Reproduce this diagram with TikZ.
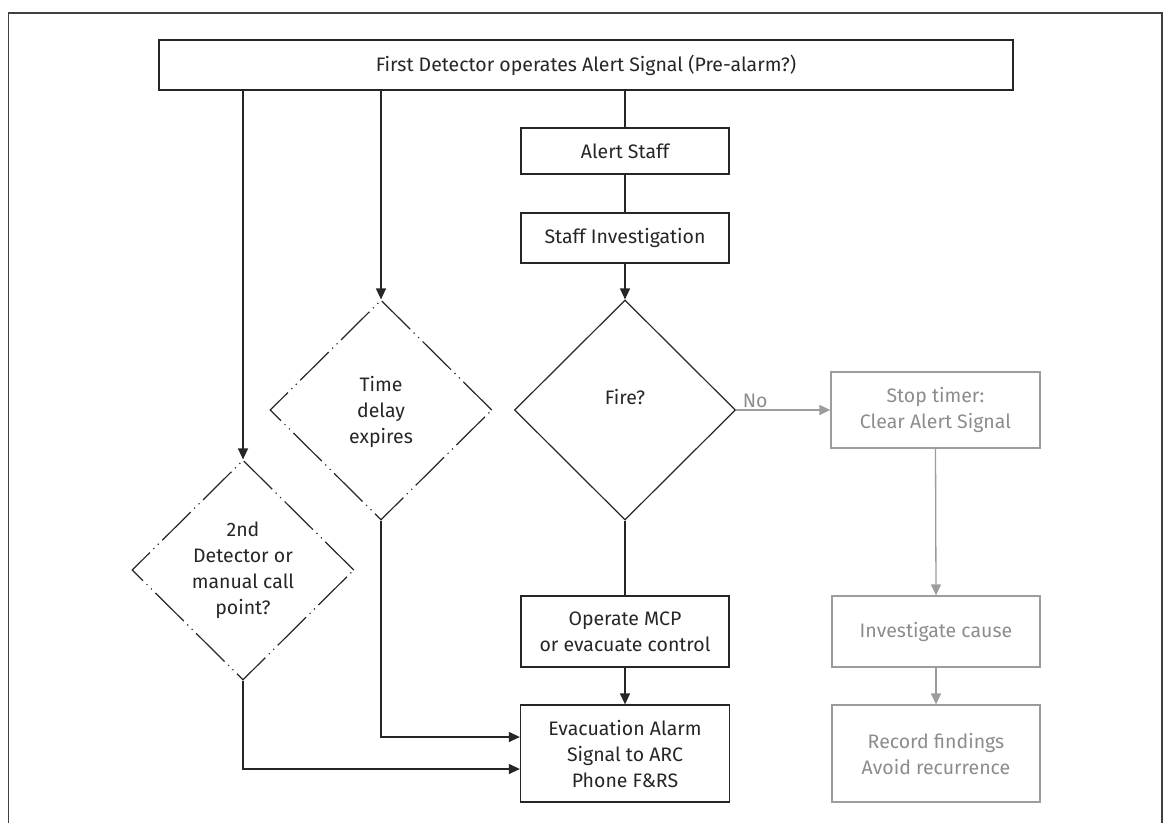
\documentclass[tikz,border=0pt]{standalone}
\usepackage{fontspec}
\setmainfont{Fira Sans}
\usetikzlibrary{shapes.geometric,arrows.meta}
\definecolor{ink}{HTML}{262626}
\definecolor{lgrey}{HTML}{9C9C9C}
\definecolor{tgrey}{HTML}{8C8C8C}
\begin{document}
\begin{tikzpicture}[x=1pt,y=-1pt,
  font=\fontsize{19.5}{26}\selectfont,
  ln/.style={line width=1.3pt, draw=ink},
  box/.style={draw=ink, line width=1.3pt, align=center, inner sep=0pt, text=ink},
  gbox/.style={draw=lgrey, line width=1.3pt, align=center, inner sep=0pt, text=tgrey},
  dia/.style={diamond, draw=ink, line width=1.2pt, inner sep=0pt},
  dashdia/.style={dia, dash pattern=on 40pt off 5pt on 1.2pt off 5pt on 1.2pt off 5pt},
  arr/.style={ln, -{Triangle[length=11pt,width=10pt]}},
  garr/.style={line width=1.3pt, draw=lgrey, -{Triangle[length=11pt,width=10pt]}},
  gln/.style={line width=1.3pt, draw=lgrey}]
\useasboundingbox (0,0) rectangle (1169,823);
% frame
\draw[line width=1.4pt, draw=black!75] (8.5,823) -- (8.5,13) -- (1162,13) -- (1162,823);

% boxes
\node[box, minimum width=854, minimum height=50] (top) at (586,65) {First Detector operates Alert Signal (Pre-alarm?)};
\node[box, minimum width=208, minimum height=46] (alert) at (625,151) {Alert Staff};
\node[box, minimum width=208, minimum height=50] (inv) at (625,238) {Staff Investigation};
\node[dia, minimum width=221, minimum height=220] (fire) at (625,410) {};
\node[text=ink] (firet) at (625,397) {Fire?};
\node[dashdia, minimum width=222, minimum height=220] (tdia) at (381,410) {};
\node[text=ink, align=center] (tdiat) at (381,412) {Time\\delay\\expires};
\node[dashdia, minimum width=222, minimum height=220] (sdia) at (243,570) {};
\node[text=ink, align=center] (sdiat) at (243,570) {2nd\\Detector or\\manual call\\point?};
\node[box, minimum width=208, minimum height=71] (mcp) at (625,631.5) {Operate MCP\\or evacuate control};
\node[box, minimum width=209, minimum height=97] (evac) at (625,753.5) {Evacuation Alarm\\Signal to ARC\\Phone F\&RS};

% grey boxes
\node[gbox, minimum width=209, minimum height=76] (stop) at (935.5,410) {Stop timer:\\Clear Alert Signal};
\node[gbox, minimum width=208, minimum height=71] (cause) at (936,631.5) {Investigate cause};
\node[gbox, minimum width=208, minimum height=97] (rec) at (936,753.5) {Record findings\\Avoid recurrence};

% connectors
\draw[ln] (top.south -| alert.north) -- (alert.north);
\draw[ln] (alert.south) -- (inv.north);
\draw[arr] (inv.south) -- (fire.north);
\draw[ln] (fire.south) -- (mcp.north);
\draw[arr] (mcp.south) -- (evac.north);
\draw[arr] (top.south -| tdia.north) -- (tdia.north);
\draw[arr] (top.south -| sdia.north) -- (sdia.north);
\draw[arr] (tdia.south) |- ([yshift=16.5pt]evac.west);
\draw[arr] (sdia.south) |- ([yshift=-15.5pt]evac.west);

\draw[garr] (fire.east) -- node[pos=0, anchor=south west, xshift=5pt, yshift=1pt, text=tgrey, inner sep=1pt] (no) {No} (stop.west);
\draw[garr] (stop.south) -- (cause.north);
\draw[garr] (cause.south) -- (rec.north);
\end{tikzpicture}
\end{document}
